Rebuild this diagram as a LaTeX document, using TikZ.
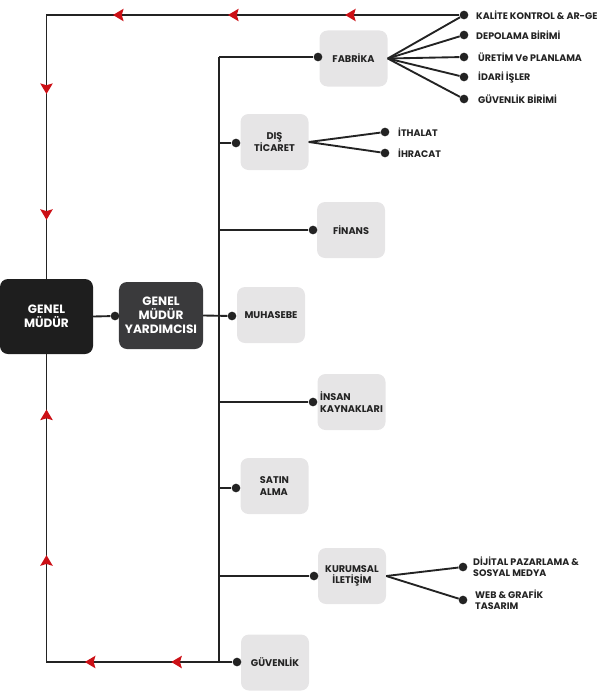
\documentclass[tikz,border=0pt]{standalone}
\usepackage{fontspec}
\setmainfont{Poppins}
\usetikzlibrary{arrows.meta,decorations.markings}
\definecolor{boxgrey}{HTML}{E6E5E6}
\definecolor{gmdark}{HTML}{1E1E1E}
\definecolor{gmydark}{HTML}{3A3A3C}
\definecolor{linedark}{HTML}{232323}
\definecolor{tipred}{HTML}{CC1016}
\tikzset{
  unit/.style={fill=boxgrey, rounded corners=0.24cm, minimum width=2.04cm,
    minimum height=1.68cm, inner sep=1pt, text=linedark, align=center,
    font=\fontsize{8.3}{9.8}\selectfont\bfseries},
  head/.style={rounded corners=0.24cm, text=white, align=center,
    font=\fontsize{10.3}{11.8}\selectfont\bfseries},
  dot/.style={circle, fill=linedark, inner sep=0pt, minimum size=0.26cm},
  sublabel/.style={anchor=west, inner sep=0pt, text=linedark, align=left,
    font=\fontsize{8.1}{9.2}\selectfont\bfseries},
  link/.style={draw=linedark, line width=1.6pt},
  tipat/.style={postaction={decorate, decoration={markings,
    mark=at position #1 with {\arrow{Stealth[length=9pt, width=10.5pt, inset=1.5pt, color=tipred, fill=tipred]}}}}}
}
\begin{document}
\begin{tikzpicture}[x=0.03cm, y=-0.03cm]
  \useasboundingbox (0,0) rectangle (600,700);
  % heads
  \node[head, fill=gmdark, minimum width=2.79cm, minimum height=2.25cm] (gm) at (46.5,316.5) {GENEL\\MÜDÜR};
  \node[head, fill=gmydark, minimum width=2.52cm, minimum height=2.01cm] (gmy) at (161,315.5) {GENEL\\MÜDÜR\\YARDIMCISI};
  \node[dot] (gmyd) at (115,316) {};
  % departments
  \node[unit] (fab) at (353.5,58.5) {FABRİKA};
  \node[unit] (dis) at (274.5,142) {DIŞ\\TİCARET};
  \node[unit] (fin) at (351,230) {FİNANS};
  \node[unit] (muh) at (271,315) {MUHASEBE};
  \node[unit, align=left] (ins) at (351.5,402) {İNSAN\\KAYNAKLARI};
  \node[unit, align=left] (sat) at (274.5,486) {SATIN\\ALMA};
  \node[unit] (kur) at (352,576) {KURUMSAL\\İLETİŞİM};
  \node[unit] (guv) at (275,662.5) {GÜVENLİK};
  % dots on the left of the departments
  \node[dot] (fabd) at (318,57) {};
  \node[dot] (disd) at (236,143) {};
  \node[dot] (find) at (313,230) {};
  \node[dot] (muhd) at (232,316) {};
  \node[dot] (insd) at (313,402) {};
  \node[dot] (satd) at (236,488) {};
  \node[dot] (kurd) at (314,576) {};
  \node[dot] (guvd) at (237,662) {};
  % trunk
  \coordinate (trunk) at (219,57);
  \coordinate (trunkend) at (219,662);
  \draw[link] (trunk) -- (trunkend);
  \draw[link] (gm.east) -- (gmyd);
  \draw[link] (gmy.east) -- (muhd);
  \foreach \d in {fabd,disd,find,insd,satd,kurd,guvd}
    \draw[link] (trunk |- \d) -- (\d);
  % fabrika units
  \node[dot] (fab1) at (464,15) {};
  \node[dot] (fab2) at (464,35) {};
  \node[dot] (fab3) at (464,57) {};
  \node[dot] (fab4) at (464,77) {};
  \node[dot] (fab5) at (464,99) {};
  \node[sublabel] (fab1l) at (476,15) {KALİTE KONTROL \& AR-GE};
  \node[sublabel] (fab2l) at (476,35) {DEPOLAMA BİRİMİ};
  \node[sublabel] (fab3l) at (478,57) {ÜRETİM Ve PLANLAMA};
  \node[sublabel] (fab4l) at (478,77) {İDARİ İŞLER};
  \node[sublabel] (fab5l) at (478,99) {GÜVENLİK BİRİMİ};
  \foreach \d in {fab1,fab2,fab3,fab4,fab5}
    \draw[link] (fab.east) -- (\d);
  % dis ticaret units
  \node[dot] (dis1) at (385,132) {};
  \node[dot] (dis2) at (385,153) {};
  \node[sublabel] (dis1l) at (398,132) {İTHALAT};
  \node[sublabel] (dis2l) at (398,153) {İHRACAT};
  \draw[link] (dis.east) -- (dis1);
  \draw[link] (dis.east) -- (dis2);
  % kurumsal iletisim units
  \node[dot] (kur1) at (463,567) {};
  \node[dot] (kur2) at (463,600) {};
  \node[sublabel] (kur1l) at (473,567) {DİJİTAL PAZARLAMA \&\\SOSYAL MEDYA};
  \node[sublabel] (kur2l) at (475,600) {WEB \& GRAFİK\\TASARIM};
  \draw[link] (kur.east) -- (kur1);
  \draw[link] (kur.east) -- (kur2);
  % feedback loops to genel mudur
  \draw[link, tipat=0.169, tipat=0.342, tipat=0.512, tipat=0.727, tipat=0.913]
    (fab1) -- (gm.north |- fab1) -- (gm.north);
  \draw[link, tipat=0.124, tipat=0.299, tipat=0.593, tipat=0.888]
    (guvd) -- (gm.south |- guvd) -- (gm.south);
\end{tikzpicture}
\end{document}
